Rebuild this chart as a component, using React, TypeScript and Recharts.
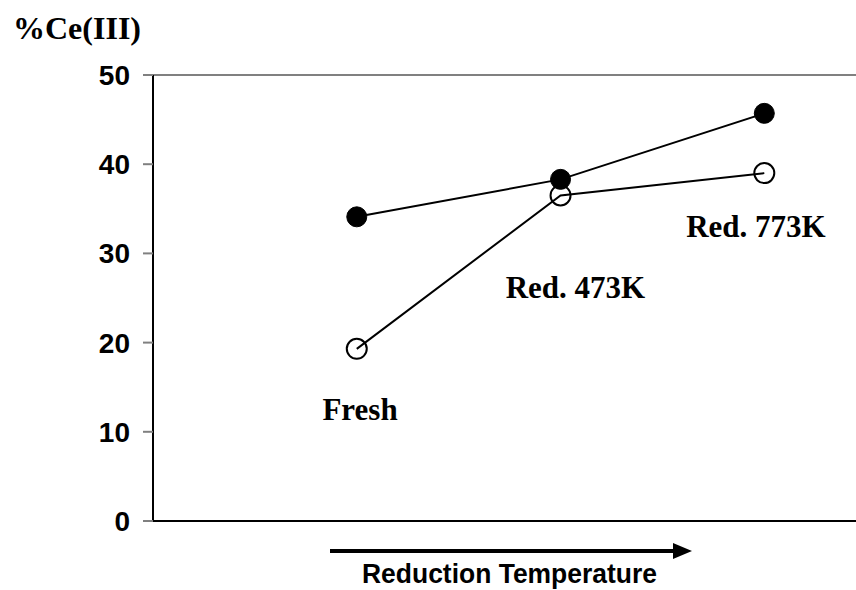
import React from 'react';
import { LineChart, Line, XAxis, YAxis, ReferenceLine, ReferenceDot } from 'recharts';

// sample positions along the (hidden) reduction temperature axis
const categories = ['Fresh', 'Red. 473K', 'Red. 773K'];
const positions = [1, 2, 3];
const filledSeries = [34.1, 38.3, 45.7];
const openSeries = [19.3, 36.5, 39.0];
const yTicks = [0, 10, 20, 30, 40, 50];

// annotation anchors (data coords)
const labelX = [1.016, 2.073, 2.959];
const labelY = [12.6, 26.2, 33.1];

const data = positions.map((x, i) => ({
  x,
  name: categories[i],
  filled: filledSeries[i],
  open: openSeries[i]
}));

const serif = '"Liberation Serif", "Times New Roman", serif';
const sans = '"Liberation Sans", Arial, sans-serif';

export default function App() {
  return (
    <div style={{ position: 'relative', width: 856, height: 590, background: '#fff', fontFamily: sans }}>
      <style>{`body { margin: 0; }`}</style>

      <LineChart width={856} height={590} data={data} margin={{ top: 75, right: 0, bottom: 69, left: 0 }}>
        <XAxis type="number" dataKey="x" domain={[0, 3.45]} hide />
        <YAxis
          type="number"
          domain={[0, 50]}
          ticks={yTicks}
          width={153}
          axisLine={{ stroke: '#000', strokeWidth: 2 }}
          tickLine={{ stroke: '#808080', strokeWidth: 2 }}
          tickSize={10}
          tickMargin={13}
          tick={{ fill: '#000', fontSize: 28, fontWeight: 'bold', fontFamily: sans }}
        />
        <ReferenceLine y={50} stroke="#808080" strokeWidth={2} />
        <ReferenceLine y={0} stroke="#000" strokeWidth={2} />

        <Line
          type="linear"
          dataKey="filled"
          stroke="#000"
          strokeWidth={2}
          dot={{ r: 10, fill: '#000', stroke: '#000', strokeWidth: 1 }}
          isAnimationActive={false}
        />
        <Line
          type="linear"
          dataKey="open"
          stroke="#000"
          strokeWidth={2}
          dot={{ r: 10, fill: 'none', stroke: '#000', strokeWidth: 2 }}
          isAnimationActive={false}
        />

        {categories.map((c, i) => (
          <ReferenceDot
            key={c}
            x={labelX[i]}
            y={labelY[i]}
            r={0}
            stroke="none"
            fill="none"
            label={{
              value: c,
              position: 'center',
              fill: '#000',
              fontSize: 31,
              fontWeight: 'bold',
              fontFamily: serif
            }}
          />
        ))}
      </LineChart>

      <svg width={856} height={590} style={{ position: 'absolute', left: 0, top: 0, pointerEvents: 'none' }}>
        <text x={13} y={39} fontFamily={serif} fontWeight="bold" fontSize={32} fill="#000">
          %Ce(III)
        </text>
        <line x1={330} y1={551} x2={676} y2={551} stroke="#000" strokeWidth={4} />
        <polygon points="673,543 692,551 673,559" fill="#000" />
        <text
          x={362}
          y={583}
          textLength={295}
          lengthAdjust="spacingAndGlyphs"
          fontFamily={sans}
          fontWeight="bold"
          fontSize={27}
          fill="#000"
        >
          Reduction Temperature
        </text>
      </svg>
    </div>
  );
}
